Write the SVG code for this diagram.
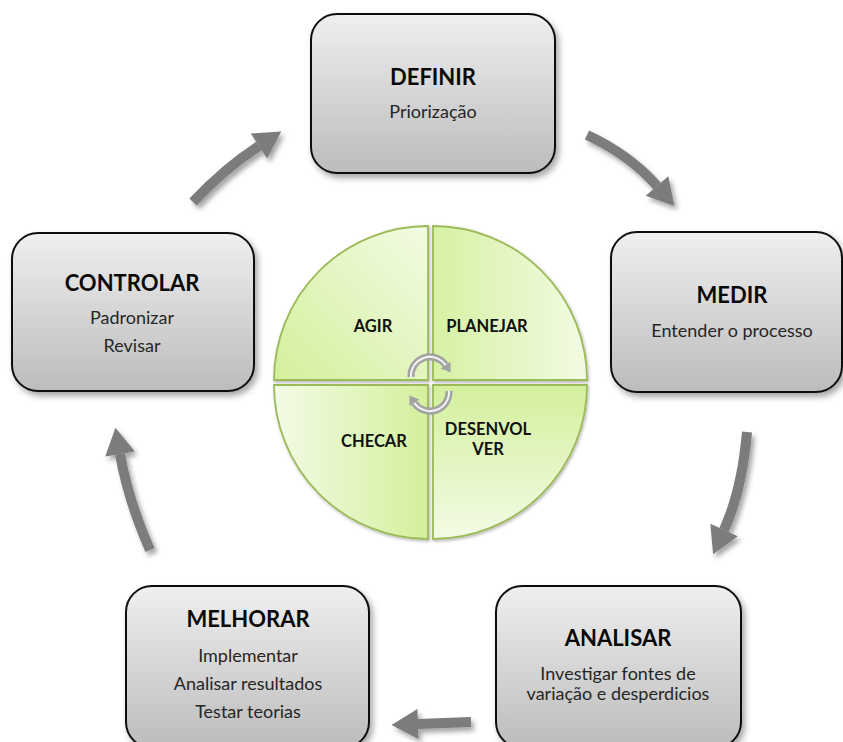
<svg xmlns="http://www.w3.org/2000/svg" width="843" height="742" viewBox="0 0 843 742">
  <defs>
    <linearGradient id="boxFill" x1="0" y1="0" x2="0" y2="1">
      <stop offset="0" stop-color="#efefef"/>
      <stop offset="1" stop-color="#bcbcbc"/>
    </linearGradient>
    <linearGradient id="gTL" x1="0" y1="1" x2="1" y2="0">
      <stop offset="0" stop-color="#d3f09c"/>
      <stop offset="1" stop-color="#f2fbe3"/>
    </linearGradient>
    <linearGradient id="gTR" x1="0" y1="0.5" x2="1" y2="0.5">
      <stop offset="0" stop-color="#d6f1a3"/>
      <stop offset="1" stop-color="#f2fbe3"/>
    </linearGradient>
    <linearGradient id="gBL" x1="0" y1="0.5" x2="1" y2="0.5">
      <stop offset="0" stop-color="#f3fbe6"/>
      <stop offset="1" stop-color="#d3f09c"/>
    </linearGradient>
    <linearGradient id="gBR" x1="0" y1="0" x2="0" y2="1">
      <stop offset="0" stop-color="#d3f09c"/>
      <stop offset="1" stop-color="#f3fbe6"/>
    </linearGradient>
    <filter id="boxShadow" x="-10%" y="-10%" width="125%" height="130%">
      <feDropShadow dx="3" dy="4" stdDeviation="3" flood-color="#000" flood-opacity="0.35"/>
    </filter>
    <filter id="arrowShadow" x="-30%" y="-30%" width="170%" height="170%">
      <feDropShadow dx="3" dy="4" stdDeviation="2.5" flood-color="#000" flood-opacity="0.35"/>
    </filter>
    <filter id="pieShadow" x="-10%" y="-10%" width="125%" height="125%">
      <feDropShadow dx="1" dy="1.5" stdDeviation="1.5" flood-color="#000" flood-opacity="0.3"/>
    </filter>
    <marker id="bigHead" markerUnits="userSpaceOnUse" markerWidth="30" markerHeight="30" refX="0" refY="13" orient="auto" viewBox="0 0 24 26">
      <path d="M0,0 L23,13 L0,26 Z" fill="#7b7b7b"/>
    </marker>
  </defs>
  <style>
    .box { fill: url(#boxFill); stroke: #111; stroke-width: 2; filter: url(#boxShadow); }
    .title { font-family: Lato, "Liberation Sans", sans-serif; font-weight: bold; font-size: 22px; fill: #0a0a0a; text-anchor: middle; }
    .sub { font-family: Lato, "Liberation Sans", sans-serif; font-size: 18px; fill: #262626; text-anchor: middle; }
    .quad { stroke: #9bbb59; stroke-width: 1.8; filter: url(#pieShadow); }
    .qlabel { font-family: Lato, "Liberation Sans", sans-serif; font-weight: bold; font-size: 16.5px; fill: #111; text-anchor: middle; }
    .flow { fill: none; stroke: #7b7b7b; stroke-width: 10; marker-end: url(#bigHead); }
    .cycleOuter { fill: none; stroke: #a3a3a3; stroke-width: 7; }
    .cycleInner { fill: none; stroke: #f4f4f4; stroke-width: 2; }
  </style>

  <rect width="843" height="742" fill="#ffffff"/>

  <!-- cycle connectors -->
  <g id="connectors" filter="url(#arrowShadow)">
    <path class="flow" d="M587,135 Q630,155 657,186"/>
    <path class="flow" d="M747,432 Q742,490 724,530"/>
    <path class="flow" d="M471,722 Q445,723 418,724"/>
    <path class="flow" d="M150,550 Q128,500 120,454"/>
    <path class="flow" d="M193,202 Q225,168 259,146"/>
  </g>

  <g id="definir">
    <rect class="box" x="311" y="14" width="244" height="159" rx="26"/>
    <text class="title" x="433" y="85">DEFINIR</text>
    <text class="sub" x="433" y="118">Priorização</text>
  </g>

  <g id="medir">
    <rect class="box" x="611" y="232" width="231" height="160" rx="26"/>
    <text class="title" x="732" y="303">MEDIR</text>
    <text class="sub" x="732" y="337">Entender o processo</text>
  </g>

  <g id="analisar">
    <rect class="box" x="496" y="586" width="245" height="162" rx="26"/>
    <text class="title" x="618" y="646">ANALISAR</text>
    <text class="sub" x="618" y="680">Investigar fontes de</text>
    <text class="sub" x="618" y="700">variação e desperdicios</text>
  </g>

  <g id="melhorar">
    <rect class="box" x="126" y="586" width="243" height="162" rx="26"/>
    <text class="title" x="248" y="627">MELHORAR</text>
    <text class="sub" x="248" y="662">Implementar</text>
    <text class="sub" x="248" y="690">Analisar resultados</text>
    <text class="sub" x="248" y="718">Testar teorias</text>
  </g>

  <g id="controlar">
    <rect class="box" x="12" y="233" width="242" height="158" rx="26"/>
    <text class="title" x="132" y="291">CONTROLAR</text>
    <text class="sub" x="132" y="324">Padronizar</text>
    <text class="sub" x="132" y="352">Revisar</text>
  </g>

  <!-- PDCA wheel -->
  <g id="pdca">
    <g id="agir">
      <path class="quad" fill="url(#gTL)" d="M428,380 L274,380 A154,154 0 0 1 428,226 Z"/>
      <text class="qlabel" x="373" y="332">AGIR</text>
    </g>
    <g id="planejar">
      <path class="quad" fill="url(#gTR)" d="M433,380 L433,226 A154,154 0 0 1 587,380 Z"/>
      <text class="qlabel" x="487" y="332">PLANEJAR</text>
    </g>
    <g id="desenvolver">
      <path class="quad" fill="url(#gBR)" d="M433,385 L587,385 A154,154 0 0 1 433,539 Z"/>
      <text class="qlabel" x="488" y="435">DESENVOL</text>
      <text class="qlabel" x="488" y="455">VER</text>
    </g>
    <g id="checar">
      <path class="quad" fill="url(#gBL)" d="M428,385 L428,539 A154,154 0 0 1 274,385 Z"/>
      <text class="qlabel" x="374" y="447">CHECAR</text>
    </g>
    <!-- rotation symbol in the hub -->
    <g id="rotation">
      <path class="cycleOuter" d="M411,377 A19,19 0 0 1 445.6,365.1"/>
      <path class="cycleInner" d="M411,377 A19,19 0 0 1 445.6,365.1"/>
      <path d="M450.5,361.7 L450.7,372.5 L440.7,368.5 Z" fill="#a3a3a3"/>
      <path class="cycleOuter" d="M449,391 A19,19 0 0 1 414.4,402.9"/>
      <path class="cycleInner" d="M449,391 A19,19 0 0 1 414.4,402.9"/>
      <path d="M409.5,406.3 L409.3,395.5 L419.3,399.5 Z" fill="#a3a3a3"/>
    </g>
  </g>
</svg>
